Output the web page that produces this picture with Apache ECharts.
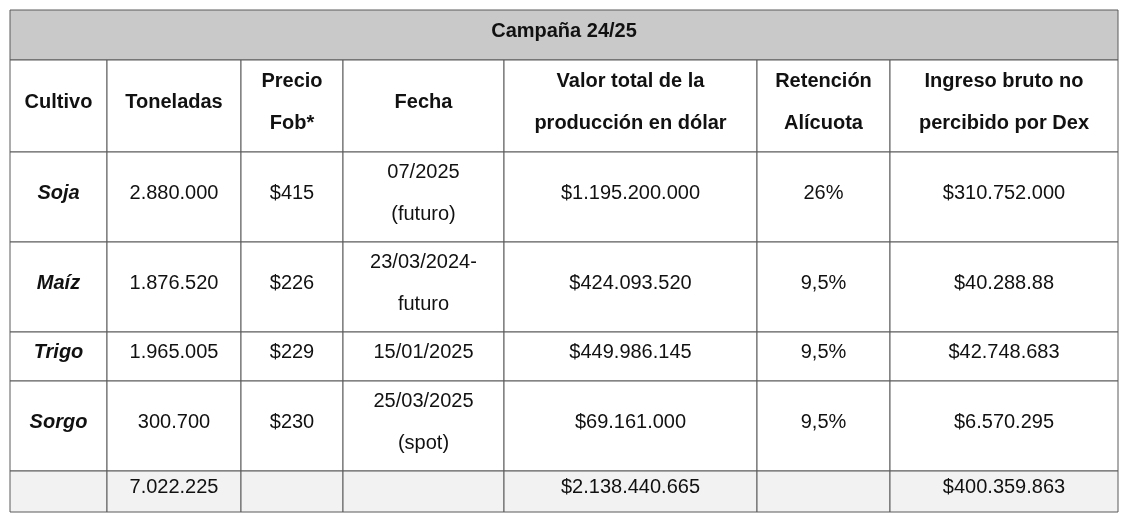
<!DOCTYPE html>
<html>
<head>
<meta charset="utf-8">
<script src="https://cdn.jsdelivr.net/npm/echarts@6/dist/echarts.min.js"></script>
<style>html,body{margin:0;background:#fff}#c{width:1138px;height:530px}</style>
</head>
<body>
<div id="c"></div>
<script>
// ========== 数据 ==========
const title = "Campaña 24/25";
const headers = ["Cultivo", "Toneladas", "Precio\nFob*", "Fecha", "Valor total de la\nproducción en dólar", "Retención\nAlícuota", "Ingreso bruto no\npercibido por Dex"];
const cultivos = ["Soja", "Maíz", "Trigo", "Sorgo"];
const toneladas = ["2.880.000", "1.876.520", "1.965.005", "300.700"];
const precios = ["$415", "$226", "$229", "$230"];
const fechas = ["07/2025\n(futuro)", "23/03/2024-\nfuturo", "15/01/2025", "25/03/2025\n(spot)"];
const valores = ["$1.195.200.000", "$424.093.520", "$449.986.145", "$69.161.000"];
const retenciones = ["26%", "9,5%", "9,5%", "9,5%"];
const ingresos = ["$310.752.000", "$40.288.88", "$42.748.683", "$6.570.295"];
const totales = ["", "7.022.225", "", "", "$2.138.440.665", "", "$400.359.863"];

// ========== 布局 ==========
const colX = [10, 107, 241, 343, 504, 757, 890, 1118];
const rowY = [10, 60, 152, 242, 332, 381, 471, 512];
const font = "'Liberation Sans', Arial, sans-serif";

const els = [];
function cell(r, c0, c1, text, opt = {}) {
  const x = colX[c0], w = colX[c1] - colX[c0];
  const y = rowY[r], h = rowY[r + 1] - rowY[r];
  els.push({
    type: "rect",
    shape: { x, y, width: w, height: h },
    style: { fill: opt.fill || "#fff", stroke: "#5a5a5a", lineWidth: 1 },
  });
  els.push({
    type: "text",
    x: x + w / 2, y: y + h / 2 - 4,
    style: {
      text, align: "center", verticalAlign: "middle",
      font: (opt.style || "") + " " + (opt.weight || "normal") + " 20px " + font,
      lineHeight: 42, fill: "#111",
    },
  });
}

cell(0, 0, 7, title, { fill: "#c9c9c9", weight: "bold" });
headers.forEach((h, i) => cell(1, i, i + 1, h, { weight: "bold" }));
cultivos.forEach((name, i) => {
  const r = i + 2;
  const vals = [name, toneladas[i], precios[i], fechas[i], valores[i], retenciones[i], ingresos[i]];
  vals.forEach((v, c) => cell(r, c, c + 1, v, c === 0 ? { weight: "bold", style: "italic" } : {}));
});
totales.forEach((v, c) => cell(6, c, c + 1, v, { fill: "#f2f2f2" }));

const chart = echarts.init(document.getElementById("c"));
chart.setOption({ animation: false, graphic: { elements: els } });
</script>
</body>
</html>
